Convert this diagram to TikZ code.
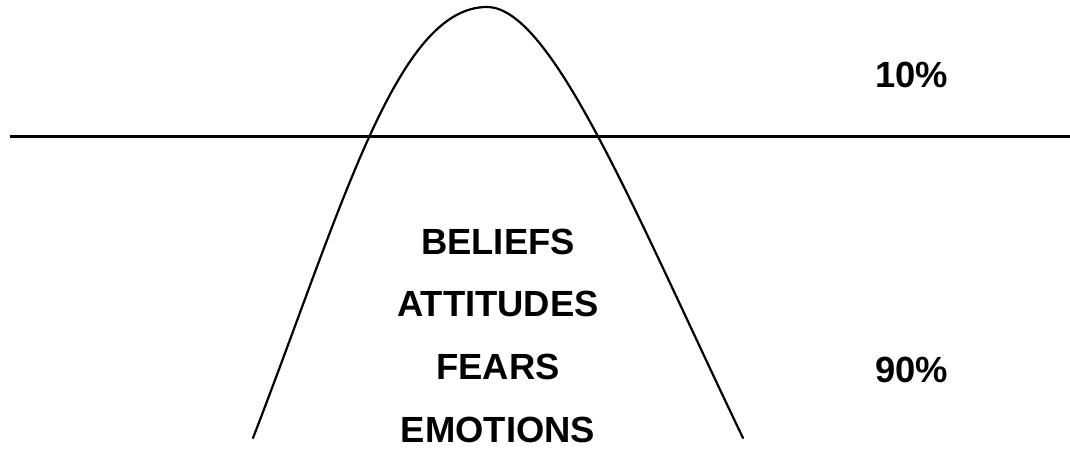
\documentclass[tikz,border=0pt]{standalone}
\usepackage{fontspec}
\setmainfont{Liberation Sans}
\usetikzlibrary{positioning}

\begin{document}
\begin{tikzpicture}[x=1pt, y=-1pt,
  lbl/.style={font=\fontsize{36.4}{40}\selectfont\bfseries, inner sep=0pt, text height=26pt, text depth=0pt},
  surface/.style={line width=3pt},
  berg/.style={line width=2.2pt, line cap=round}
]
\useasboundingbox (0,0) rectangle (1070,448);
% water line
\coordinate (wl) at (10,136);
\coordinate (wr) at (1070,136);
\draw[surface] (wl) -- (wr);
% the iceberg curve
\coordinate (baseL) at (253,438);
\coordinate (peak) at (487,7);
\coordinate (baseR) at (743,438);
\draw[berg] (baseL) .. controls (343,205) and (397,7) .. (peak)
  .. controls (552,7) and (635,213) .. (baseR);
% labels
\node[lbl] (beliefs) at (498,241) {BELIEFS};
\node[lbl, below=36.5pt of beliefs] (attitudes) {ATTITUDES};
\node[lbl, below=36.5pt of attitudes] (fears) {FEARS};
\node[lbl, below=36.5pt of fears] (emotions) {EMOTIONS};
\node[lbl, anchor=west] (above) at (875,74) {10\%};
\node[lbl, anchor=west] (below) at (875,369) {90\%};
\end{tikzpicture}
\end{document}
